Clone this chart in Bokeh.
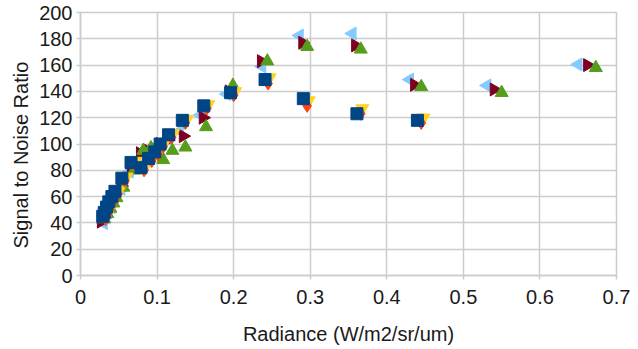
import math
from bokeh.plotting import figure
from bokeh.models import FixedTicker, Range1d, Title
from bokeh.embed import file_html
from bokeh.resources import INLINE

# ---- data ----
x_ticks = [0, 0.1, 0.2, 0.3, 0.4, 0.5, 0.6, 0.7]
x_tick_labels = ["0", "0.1", "0.2", "0.3", "0.4", "0.5", "0.6", "0.7"]
y_ticks = [0, 20, 40, 60, 80, 100, 120, 140, 160, 180, 200]

lb_x = [0.030, 0.033, 0.036, 0.040, 0.044, 0.053, 0.064, 0.078, 0.088, 0.097, 0.104, 0.114, 0.130, 0.157, 0.191, 0.237, 0.286, 0.355, 0.430, 0.531, 0.650]
lb_y = [40, 44, 48, 52, 57, 66, 79, 84, 90, 93, 97, 104, 110, 122, 138, 159, 182.5, 184, 149, 144.5, 160.5]

bg_x = [0.027, 0.031, 0.035, 0.039, 0.043, 0.053, 0.066, 0.078, 0.088, 0.097, 0.104, 0.114, 0.134, 0.160, 0.194, 0.236, 0.290, 0.359, 0.436, 0.540, 0.662]
bg_y = [41, 45, 49, 54, 58, 68, 82, 93, 95, 96, 100, 103, 106, 120, 140, 163, 177, 175, 145, 141.5, 160]

gr_x = [0.031, 0.035, 0.039, 0.043, 0.047, 0.056, 0.070, 0.082, 0.092, 0.100, 0.108, 0.120, 0.137, 0.164, 0.199, 0.244, 0.296, 0.366, 0.445, 0.550, 0.673]
gr_y = [43, 47, 51, 55, 59, 67, 80, 95, 97, 99, 88, 95, 97.5, 113, 144.5, 163, 174, 172, 143.5, 139, 158]

sq_x = [0.029, 0.031, 0.034, 0.037, 0.041, 0.045, 0.054, 0.066, 0.079, 0.089, 0.097, 0.104, 0.115, 0.133, 0.161, 0.196, 0.241, 0.291, 0.361, 0.440]
sq_y = [45, 48, 52, 56, 60, 64, 74, 86, 82, 89, 94, 100, 107, 118, 129, 139, 149, 134.5, 123, 118]

or_x = [0.033, 0.035, 0.038, 0.041, 0.045, 0.049, 0.058, 0.070, 0.083, 0.093, 0.101, 0.108, 0.119, 0.137, 0.165, 0.200, 0.245, 0.296, 0.366, 0.445]
or_y = [43, 46, 50, 54, 58, 62, 72, 84, 80, 87, 92, 98, 105, 116, 127, 137, 146, 129, 123, 116]

ye_x = [0.035, 0.037, 0.040, 0.043, 0.047, 0.051, 0.060, 0.072, 0.085, 0.095, 0.103, 0.110, 0.121, 0.139, 0.167, 0.202, 0.247, 0.298, 0.368, 0.448]
ye_y = [46, 49, 53, 57, 61, 65, 75, 87, 83, 90, 95, 101, 108, 119, 130, 140, 150.5, 133, 127, 120]

x_title = "Radiance (W/m2/sr/um)"
y_title = "Signal to Noise Ratio"

FONT = "Liberation Sans"
TXT = "#1a1a1a"
GRID = "#cccccc"

p = figure(width=638, height=349, output_backend="svg", toolbar_location=None,
           x_range=Range1d(0, 0.7), y_range=Range1d(0, 200),
           min_border_left=80, min_border_right=22, min_border_top=12, min_border_bottom=74)
p.background_fill_color = "white"
p.border_fill_color = "white"
p.outline_line_color = GRID
p.outline_line_width = 1.5

for ax in (p.xaxis[0], p.yaxis[0]):
    ax.axis_line_color = GRID
    ax.axis_line_width = 1.5
    ax.major_tick_line_color = GRID
    ax.major_tick_line_width = 1.5
    ax.major_tick_out = 4
    ax.major_tick_in = 0
    ax.minor_tick_line_color = None
    ax.major_label_text_font = FONT
    ax.major_label_text_font_size = "20px"
    ax.major_label_text_color = TXT
    ax.axis_label_text_font = FONT
    ax.axis_label_text_font_size = "20px"
    ax.axis_label_text_color = TXT
    ax.axis_label_text_font_style = "normal"

p.xaxis[0].ticker = FixedTicker(ticks=x_ticks)
p.xaxis[0].major_label_overrides = {t: l for t, l in zip(x_ticks, x_tick_labels)}
p.yaxis[0].ticker = FixedTicker(ticks=y_ticks)
p.xaxis[0].axis_label = x_title
p.xaxis[0].major_label_standoff = 10
p.xaxis[0].axis_label_standoff = 16
p.yaxis[0].major_label_standoff = 4

# y-axis title as a left-side title, anchored from the bottom of the frame
p.add_layout(Title(text=y_title, align="left", offset=27, standoff=10,
                   text_font=FONT, text_font_size="20px", text_font_style="normal",
                   text_color=TXT), "left")

p.xgrid.grid_line_color = GRID
p.ygrid.grid_line_color = GRID
p.xgrid.grid_line_width = 1.5
p.ygrid.grid_line_width = 1.5

S = 13
p.scatter(lb_x, lb_y, marker="triangle", angle=math.pi / 2, size=S,
          fill_color="#83CAFF", line_color="#83CAFF")
p.scatter(bg_x, bg_y, marker="triangle", angle=-math.pi / 2, size=S,
          fill_color="#7E0021", line_color="#7E0021")
p.scatter(gr_x, gr_y, marker="triangle", size=S,
          fill_color="#579D1C", line_color="#579D1C")
p.scatter(ye_x, ye_y, marker="inverted_triangle", size=S,
          fill_color="#FFD320", line_color="#FFD320")
p.scatter(or_x, or_y, marker="diamond", size=S,
          fill_color="#FF420E", line_color="#FF420E")
p.scatter(sq_x, sq_y, marker="square", size=12,
          fill_color="#004586", line_color="#004586")

open("out.html", "w").write(file_html(p, INLINE))
